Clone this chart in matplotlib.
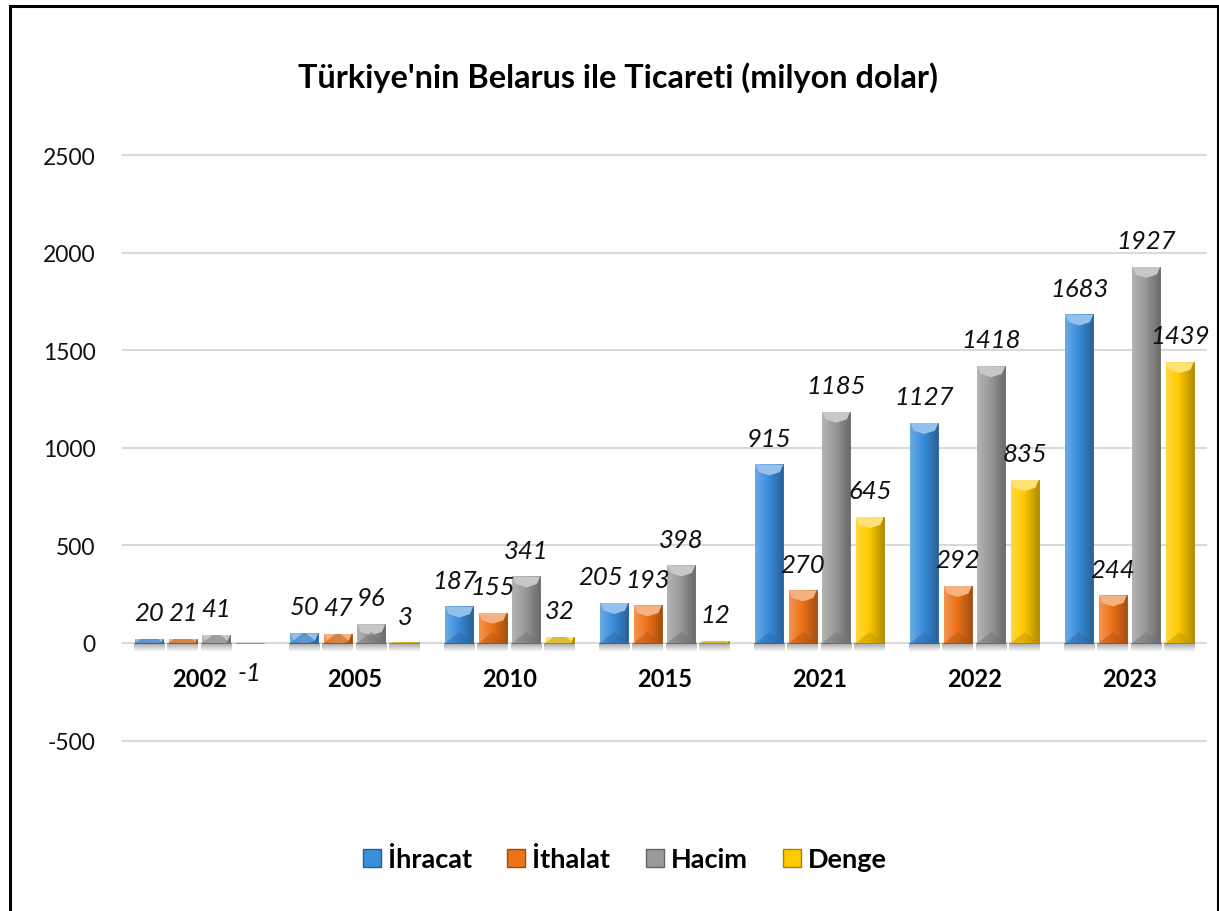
import numpy as np
import matplotlib.pyplot as plt
from matplotlib.patches import Rectangle, Polygon
from matplotlib.lines import Line2D
from matplotlib.colors import to_rgb

years = ['2002', '2005', '2010', '2015', '2021', '2022', '2023']
ihracat = [20, 50, 187, 205, 915, 1127, 1683]
ithalat = [21, 47, 155, 193, 270, 292, 244]
hacim = [41, 96, 341, 398, 1185, 1418, 1927]
denge = [-1, 3, 32, 12, 645, 835, 1439]

series_names = ['İhracat', 'İthalat', 'Hacim', 'Denge']
series_values = [ihracat, ithalat, hacim, denge]
colors = ['#3A8EDC', '#EE7218', '#9A9A9A', '#FFCA00']

# a few labels were nudged sideways in the original (pixels)
label_nudge = {(0, 2): -5, (0, 3): -14}

FONT = 'Lato'
plt.rcParams['font.family'] = [FONT, 'DejaVu Sans']
plt.rcParams['axes.unicode_minus'] = False


def shade(c, f):
    r = np.array(to_rgb(c))
    if f >= 0:
        return tuple(r + (1 - r) * f)
    return tuple(r * (1 + f))


def bevel_bar(ax, patch, color, px_per_unit):
    x0 = patch.get_x()
    w = patch.get_width()
    y0 = patch.get_y()
    h = patch.get_height()
    x1 = x0 + w
    lo, hi = min(y0, y0 + h), max(y0, y0 + h)
    # horizontal gradient body
    grad = np.linspace(0, 1, 40)
    prof = 0.25 - 0.55 * grad
    img = np.array([[shade(color, p) for p in prof]])
    im = ax.imshow(img, extent=(x0, x1, lo, hi), aspect='auto',
                   interpolation='bilinear', zorder=2)
    im.set_clip_path(patch)
    d = 11 / px_per_unit
    xc = (x0 + x1) / 2
    top = Polygon([(x0, hi), (x1, hi), (x1 - w * 0.12, hi - d * 0.7), (xc, hi - d),
                   (x0 + w * 0.12, hi - d * 0.7)],
                  closed=True, facecolor=shade(color, 0.45), edgecolor='none', zorder=3)
    ax.add_patch(top)
    top.set_clip_path(patch)
    bot = Polygon([(x0, lo), (x1, lo), (xc, lo + d)], closed=True,
                  facecolor=shade(color, -0.25), edgecolor='none', alpha=0.5, zorder=3)
    ax.add_patch(bot)
    bot.set_clip_path(patch)
    if h > 0:
        sh = np.zeros((20, 1, 4))
        sh[:, 0, 3] = np.linspace(0.35, 0, 20)
        ax.imshow(sh, extent=(x0 - w * 0.05, x1 + w * 0.05, -45, 0), aspect='auto',
                  interpolation='bilinear', zorder=1)


fig = plt.figure(figsize=(12.19, 9.12), dpi=100)
ax = fig.add_axes([0.1001, 0.1826, 0.8901, 0.6506])

ylo, yhi = -520, 2520
ax_h_px = 0.6506 * 912
px_per_unit = ax_h_px / (yhi - ylo)

x = np.arange(len(years))
step = 0.216
width = 0.18
for k, (vals, col) in enumerate(zip(series_values, colors)):
    pos = x + (k - 1.5) * step
    bars = ax.bar(pos, vals, width=width, color=col, edgecolor=shade(col, -0.35),
                  linewidth=0.6, zorder=2)
    for b in bars:
        bevel_bar(ax, b, col, px_per_unit)
    for i, (xp, v) in enumerate(zip(pos, vals)):
        dx = label_nudge.get((k, i), 0) * 0.72
        if v >= 0:
            ax.annotate(str(v), (xp, v), xytext=(dx, 13.5), textcoords='offset points',
                        ha='center', va='baseline', fontsize=18.5, style='italic',
                        color='#111111', zorder=5)
        else:
            ax.annotate(str(v), (xp, v), xytext=(dx, -13), textcoords='offset points',
                        ha='center', va='top', fontsize=18.5, style='italic',
                        color='#111111', zorder=5)

ax.set_xlim(-0.5, len(years) - 0.5)
ax.set_ylim(ylo, yhi)
ax.set_yticks(np.arange(-500, 2501, 500))
ax.yaxis.grid(True, color='#D9D9D9', linewidth=1.5, zorder=0)
ax.set_axisbelow(True)
for s in ['top', 'right', 'left']:
    ax.spines[s].set_visible(False)
ax.spines['bottom'].set_position(('data', 0))
ax.spines['bottom'].set_visible(False)
ax.set_xticks(x)
ax.set_xticklabels(years, fontsize=17, fontweight='bold')
ax.tick_params(axis='x', length=0, pad=17)
ax.tick_params(axis='y', length=0, pad=19, labelsize=16.5)
for t in ax.get_yticklabels():
    t.set_color('#111111')

fig.text(0.507, 1 - 78 / 912, "Türkiye'nin Belarus ile Ticareti (milyon dolar)",
         ha='center', va='center', fontsize=23.3, fontweight='bold')

handles = [Rectangle((0, 0), 1, 1, facecolor=c, edgecolor=shade(c, -0.35)) for c in colors]
leg = fig.legend(handles, series_names, loc='center', bbox_to_anchor=(625 / 1219, 1 - 860 / 912),
                 ncol=4, frameon=False, handlelength=0.67, handleheight=0.65,
                 handletextpad=0.26, columnspacing=1.3,
                 prop={'family': FONT, 'weight': 'bold', 'size': 19.5})

# chart border
lw = 2.2
fig.add_artist(Line2D([9.5 / 1219, 9.5 / 1219], [0, 1 - 6.5 / 912], color='black', linewidth=lw))
fig.add_artist(Line2D([9.5 / 1219, 1217.5 / 1219], [1 - 6.5 / 912, 1 - 6.5 / 912], color='black', linewidth=lw))
fig.add_artist(Line2D([1217.5 / 1219, 1217.5 / 1219], [0, 1 - 6.5 / 912], color='black', linewidth=lw))

fig.savefig('out.png', dpi=100)
